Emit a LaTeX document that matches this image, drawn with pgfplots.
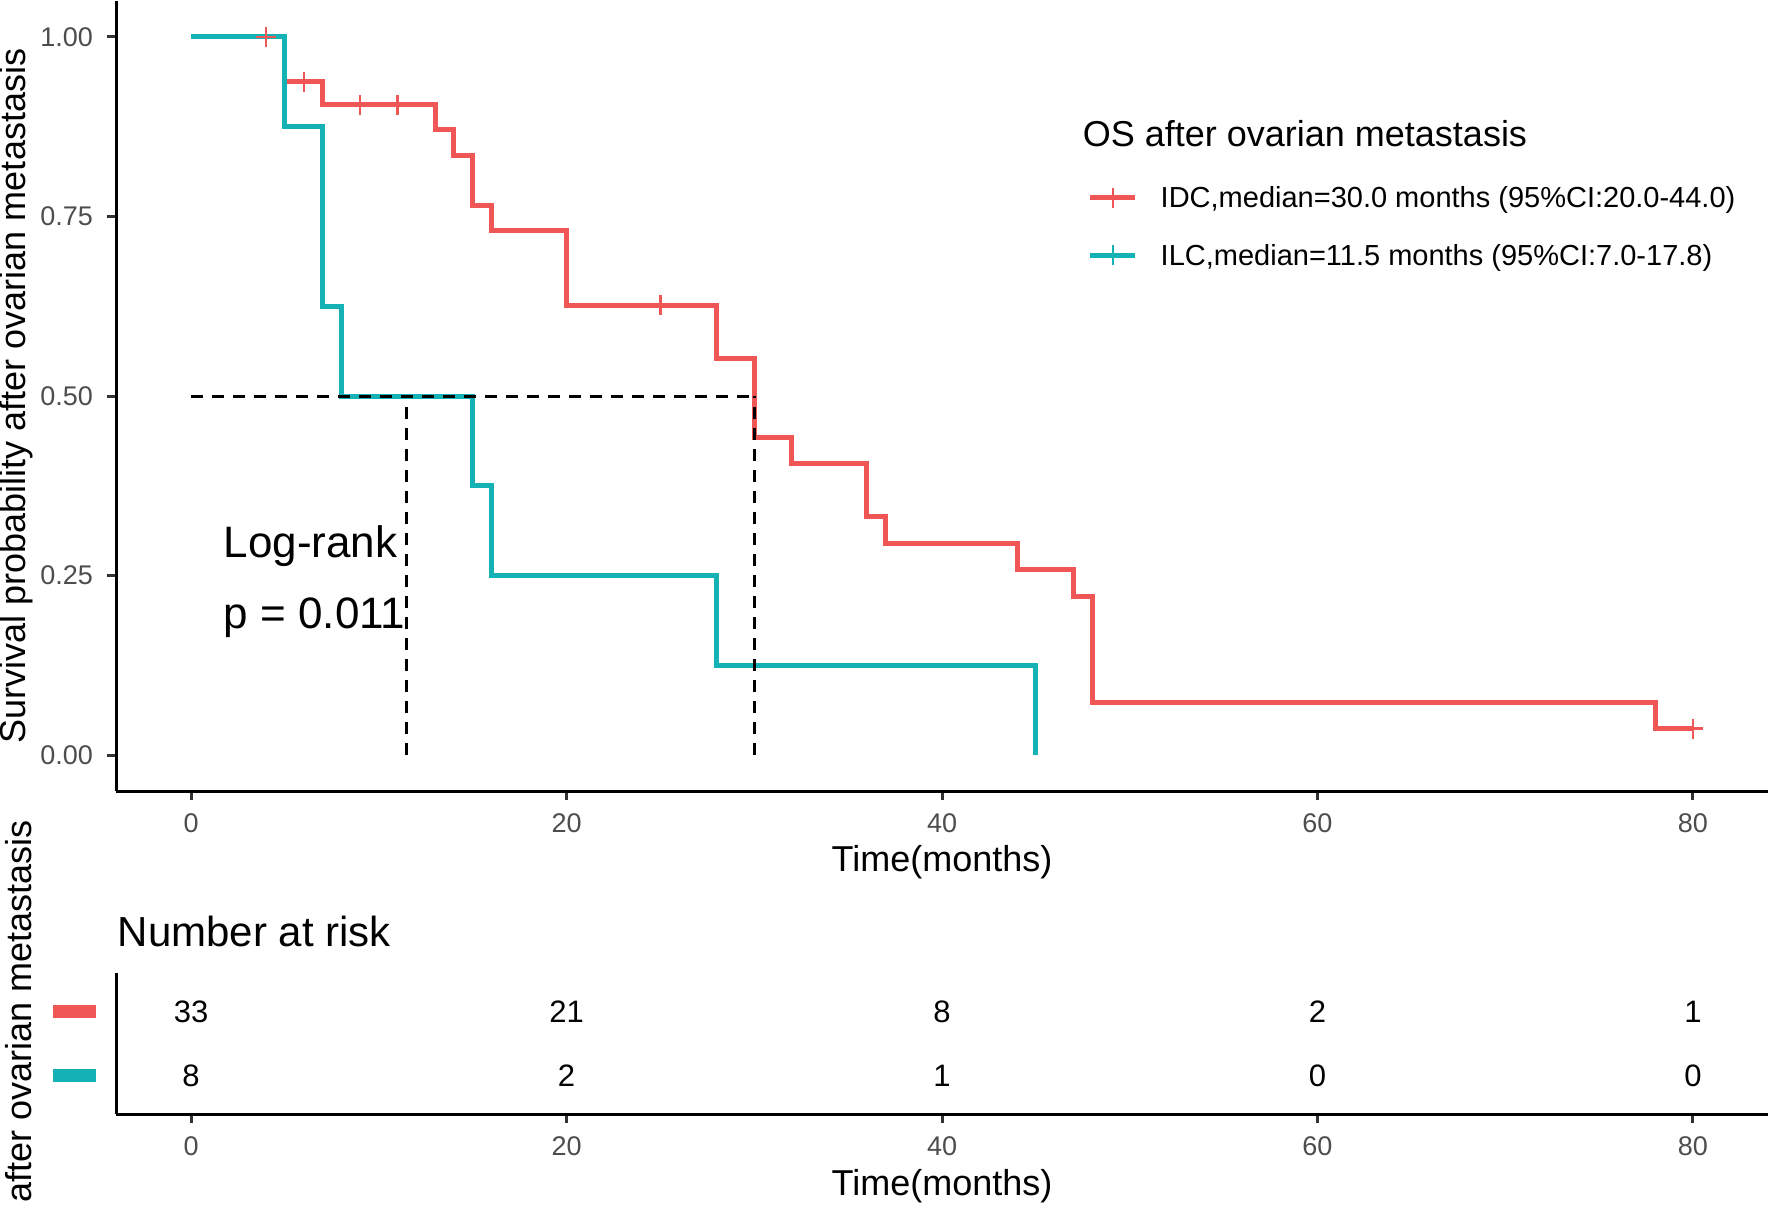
\documentclass[border=0pt]{standalone}
\usepackage{fontspec}
\setmainfont{Liberation Sans}
\usepackage{pgfplots}
\pgfplotsset{compat=1.18}

\definecolor{idc}{RGB}{240,86,86}
\definecolor{ilc}{RGB}{20,178,180}
\definecolor{ticklab}{RGB}{77,77,77}
\definecolor{tickcol}{RGB}{51,51,51}

% 1 px of the reference = 0.25pt
\pgfplotsset{
  km/.style={
    scale only axis,
    width=413pt,
    xmin=-4, xmax=84,
    axis lines=left,
    axis line style={-, line width=0.75pt, black},
    tick align=outside,
    major tick length=2.25pt,
    every tick/.style={line width=0.75pt, tickcol},
    xtick={0,20,40,60,80},
    xticklabels={0,20,40,60,80},
    tick label style={font=\fontsize{6.75}{8}\selectfont, text=ticklab},
    /pgf/number format/assume math mode=true,
    label style={font=\fontsize{9}{10}\selectfont},
    clip=false,
  },
  idcline/.style={color=idc, line width=1.25pt},
  ilcline/.style={color=ilc, line width=1.25pt},
  censor/.style={only marks, mark=+, mark size=2.5pt, mark options={line width=0.6pt}},
  medline/.style={black, line width=0.75pt, dash pattern=on 3pt off 2.25pt},
}

\begin{document}
\begin{tikzpicture}
\path[use as bounding box] (0,0) rectangle (443pt,305.25pt);

% ---- survival curves ----
\begin{axis}[km,
  at={(29pt,107.5pt)}, anchor=south west,
  height=197.5pt,
  ymin=-0.05, ymax=1.05,
  ytick={0,0.25,0.5,0.75,1},
  yticklabels={0.00,0.25,0.50,0.75,1.00},
  xlabel={Time(months)},
  ylabel={Survival probability after ovarian metastasis},
  xlabel style={at={(axis description cs:0.5,-0.0905)}, anchor=center},
  ylabel style={at={(axis description cs:-0.0605,0.5)}, anchor=center},
  legend style={at={(axis cs:47.72,0.7994)}, anchor=north west,
    draw=none, fill=none, inner sep=0pt, row sep=6.35pt, column sep=5.75pt,
    font=\fontsize{7.25}{8}\selectfont,
    nodes={inner sep=0pt, text height=6.5pt, text depth=1.5pt}},
  legend cell align=left,
  legend image code/.code={
    \draw[mark repeat=2, mark phase=2, #1]
      plot coordinates {(0pt,0pt) (5.625pt,0pt) (11.25pt,0pt)};},
]
% IDC
\addplot[idcline, const plot, forget plot] coordinates {
  (0,1) (5,0.9375) (7,0.9052) (13,0.8704) (14,0.8355) (15,0.7659)
  (16,0.7311) (20,0.6267) (28,0.5529) (30,0.4423) (32,0.4055)
  (36,0.3318) (37,0.2949) (44,0.2580) (47,0.2212) (48,0.0737)
  (78,0.0369) (80,0.0369)
};
% ILC
\addplot[ilcline, const plot, forget plot] coordinates {
  (0,1) (5,0.875) (7,0.625) (8,0.5) (15,0.375) (16,0.25) (28,0.125) (45,0)
};
% censored
\addplot[idc, censor, forget plot] coordinates {
  (4,1) (6,0.9375) (9,0.9052) (11,0.9052) (25,0.6267) (80,0.0369)
};

\node[anchor=base west, inner sep=0pt, font=\fontsize{11}{13}\selectfont]
  at (axis cs:1.70,0.2758) {Log-rank};
\node[anchor=base west, inner sep=0pt, font=\fontsize{11}{13}\selectfont]
  at (axis cs:1.70,0.1769) {p = 0.011};

% median lines
\addplot[medline, forget plot] coordinates {(0,0.5) (30,0.5)};
\addplot[medline, forget plot] coordinates {(11.5,0) (11.5,0.5)};
\addplot[medline, forget plot] coordinates {(30,0) (30,0.5)};

\node[anchor=base west, inner sep=0pt, font=\fontsize{9}{10}\selectfont]
  at (axis cs:47.46,0.8468) {OS after ovarian metastasis};
\addlegendimage{idcline, mark=+, mark size=2.5pt, mark options={line width=0.6pt}}
\addlegendentry{IDC,median=30.0 months (95\%CI:20.0-44.0)}
\addlegendimage{ilcline, mark=+, mark size=2.5pt, mark options={line width=0.6pt}}
\addlegendentry{ILC,median=11.5 months (95\%CI:7.0-17.8)}
\end{axis}

% ---- number at risk ----
\begin{axis}[km,
  at={(29pt,26.75pt)}, anchor=south west,
  height=35.25pt,
  ymin=0.4, ymax=2.6,
  ytick={1,2},
  yticklabels={{\textcolor{ilc}{\rule[-1.625pt]{10.75pt}{3.25pt}}},
               {\textcolor{idc}{\rule[-1.625pt]{10.75pt}{3.25pt}}}},
  ytick style={draw=none},
  yticklabel style={anchor=east, inner sep=0pt, xshift=-2.5pt},
  xlabel={Time(months)},
  ylabel={after ovarian metastasis},
  xlabel style={at={(axis description cs:0.5,-0.51)}, anchor=center},
  ylabel style={at={(axis description cs:-0.0587,2.085)}, anchor=east, inner sep=0pt},
  title={Number at risk},
  every axis title shift=0pt,
  title style={at={(axis description cs:0.0006,1.291)}, anchor=west,
    inner sep=0pt, font=\fontsize{10.5}{12}\selectfont},
]
\addplot[draw=none, nodes near coords, point meta=explicit symbolic,
  nodes near coords align={center},
  every node near coord/.style={font=\fontsize{7.75}{9}\selectfont, text=black}]
  table[meta=n] {
x  y  n
0  2  33
20 2  21
40 2  8
60 2  2
80 2  1
0  1  8
20 1  2
40 1  1
60 1  0
80 1  0
};
\end{axis}
\end{tikzpicture}
\end{document}
